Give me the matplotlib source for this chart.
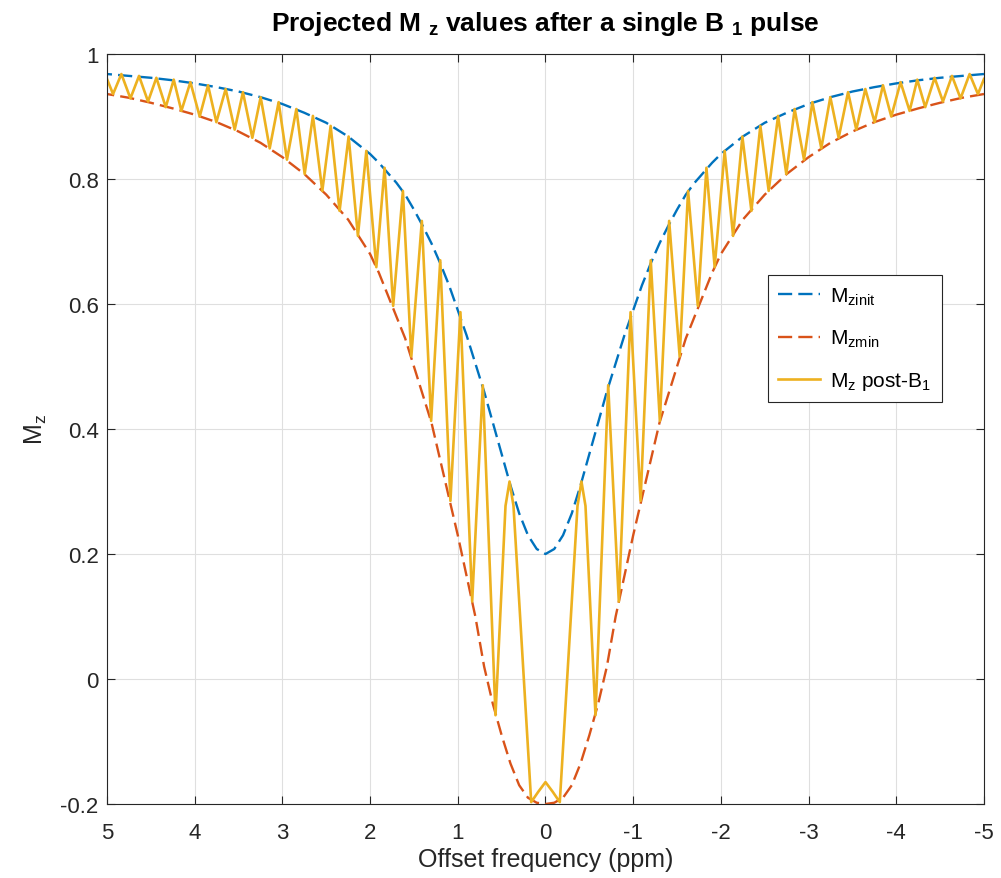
import numpy as np
import matplotlib
matplotlib.use('Agg')
import matplotlib.pyplot as plt
from matplotlib.lines import Line2D

plt.rcParams['font.family'] = ['Liberation Sans', 'DejaVu Sans']
plt.rcParams['mathtext.fontset'] = 'custom'
plt.rcParams['mathtext.rm'] = 'Liberation Sans'
plt.rcParams['mathtext.it'] = 'Liberation Sans'
plt.rcParams['mathtext.bf'] = 'Liberation Sans:bold'
plt.rcParams['mathtext.default'] = 'regular'
plt.rcParams['axes.unicode_minus'] = False

# ---- data (curves are symmetric about 0 ppm) ----
# envelope samples at |offset| (ppm)
env_x = [0.0, 0.1, 0.2, 0.3, 0.4, 0.5, 0.6, 0.7, 0.8, 0.9, 1.0, 1.1, 1.2, 1.3,
         1.4, 1.5, 1.6, 1.7, 1.8, 1.9, 2.0, 2.25, 2.5, 2.75, 3.0, 3.25, 3.5,
         3.75, 4.0, 4.25, 4.5, 4.75, 5.0]
mz_init = [0.200, 0.208, 0.230, 0.265, 0.310, 0.360, 0.410, 0.460, 0.505,
           0.550, 0.590, 0.630, 0.665, 0.697, 0.725, 0.751, 0.775, 0.794,
           0.810, 0.826, 0.840, 0.868, 0.890, 0.906, 0.920, 0.931, 0.940,
           0.947, 0.953, 0.958, 0.962, 0.965, 0.968]
mz_min = [-0.200, -0.198, -0.190, -0.170, -0.135, -0.090, -0.040, 0.020,
          0.100, 0.165, 0.230, 0.290, 0.350, 0.410, 0.455, 0.500, 0.545,
          0.580, 0.615, 0.650, 0.680, 0.735, 0.775, 0.808, 0.835, 0.858,
          0.876, 0.891, 0.903, 0.913, 0.922, 0.930, 0.936]

# turning points of the post-B1 curve at |offset| (ppm)
b1_x = [0.000, 0.080, 0.163, 0.365, 0.410, 0.456, 0.570, 0.715, 0.836, 0.970,
        1.084, 1.200, 1.304, 1.410, 1.530, 1.626, 1.737, 1.835, 1.929, 2.043,
        2.139, 2.245, 2.348, 2.450, 2.545, 2.652, 2.746, 2.841, 2.948, 3.043,
        3.145, 3.248, 3.343, 3.450, 3.544, 3.647, 3.753, 3.848, 3.943, 4.049,
        4.152, 4.239, 4.330, 4.437, 4.532, 4.635, 4.733, 4.836, 4.931, 5.000]
b1_y = [-0.165, -0.180, -0.197, 0.277, 0.316, 0.277, -0.058, 0.470, 0.124,
        0.587, 0.285, 0.670, 0.413, 0.733, 0.516, 0.781, 0.597, 0.818, 0.659,
        0.845, 0.709, 0.868, 0.749, 0.885, 0.781, 0.901, 0.808, 0.912, 0.831,
        0.923, 0.849, 0.931, 0.866, 0.939, 0.879, 0.944, 0.891, 0.950, 0.900,
        0.955, 0.909, 0.959, 0.915, 0.962, 0.924, 0.965, 0.929, 0.968, 0.936,
        0.960]

x_ticks = [5, 4, 3, 2, 1, 0, -1, -2, -3, -4, -5]
y_ticks = [-0.2, 0, 0.2, 0.4, 0.6, 0.8, 1]
y_labels = ['-0.2', '0', '0.2', '0.4', '0.6', '0.8', '1']


def mirror(x, y):
    x = np.asarray(x)
    y = np.asarray(y)
    return np.concatenate([-x[::-1], x[1:]]), np.concatenate([y[::-1], y[1:]])


ex, init_full = mirror(env_x, mz_init)
_, min_full = mirror(env_x, mz_min)
bx, b1_full = mirror(b1_x, b1_y)

c_blue = '#0072BD'
c_red = '#D95319'
c_yel = '#EDB120'
txt = '#262626'

fig = plt.figure(figsize=(10.01, 8.79), dpi=100)
ax = fig.add_axes([0.1069, 0.0842, 0.8761, 0.8532])

ax.plot(ex, init_full, color=c_blue, lw=1.7, dashes=(6, 2.6))
ax.plot(ex, min_full, color=c_red, lw=1.7, dashes=(6, 2.6))
ax.plot(bx, b1_full, color=c_yel, lw=1.9, solid_joinstyle='round')

ax.set_xlim(5, -5)
ax.set_ylim(-0.2, 1)
ax.set_xticks(x_ticks)
ax.set_xticklabels([str(t) for t in x_ticks])
ax.set_yticks(y_ticks)
ax.set_yticklabels(y_labels)
ax.grid(True, color='#dfdfdf', lw=0.8)
ax.set_axisbelow(True)
ax.tick_params(direction='in', length=6, width=0.8, colors=txt, labelsize=16,
               top=True, right=True)
ax.tick_params(axis='x', pad=13)
ax.tick_params(axis='y', pad=6)
for s in ax.spines.values():
    s.set_color(txt)
    s.set_linewidth(0.8)

ax.set_xlabel('Offset frequency (ppm)', fontsize=18, color=txt, labelpad=3)
ax.set_ylabel(r'M$_z$', fontsize=18, color=txt, labelpad=8)
ax.set_title(r'Projected M $_\mathbf{z}$ values after a single B $_\mathbf{1}$ pulse',
             fontsize=19, fontweight='bold', pad=17)

handles = [Line2D([], [], color=c_blue, lw=1.7, dashes=(6, 2.6)),
           Line2D([], [], color=c_red, lw=1.7, dashes=(6, 2.6)),
           Line2D([], [], color=c_yel, lw=1.9)]
labels = [r'M$_{zinit}$', r'M$_{zmin}$', r'M$_z$ post-B$_1$']
leg = ax.legend(handles, labels, loc='upper right', bbox_to_anchor=(0.952, 0.705),
                borderaxespad=0, fontsize=15, fancybox=False, framealpha=1,
                edgecolor=txt, labelspacing=1.0, handlelength=2.0,
                handletextpad=0.5, borderpad=0.5)
leg.get_frame().set_linewidth(0.8)

fig.savefig('out.png', dpi=100)
